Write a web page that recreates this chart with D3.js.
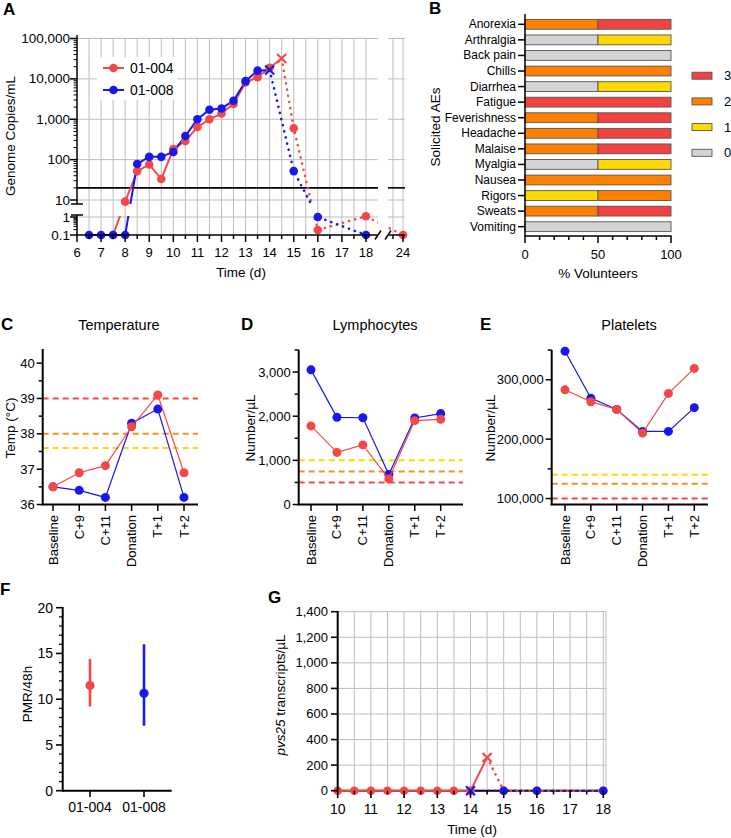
<!DOCTYPE html>
<html><head><meta charset="utf-8">
<script src="https://cdn.jsdelivr.net/npm/d3@7"></script>
<style>
body{margin:0;background:#fff}
svg{display:block}
text{font-family:"Liberation Sans",Arial,Helvetica,sans-serif;fill:#000}
</style>
</head><body>
<svg id="c" width="731" height="838"></svg>
<script>
// ---------------- DATA ----------------
// Panel A: genome copies/mL over time (days)
const daysRedA  = [7.5, 8, 8.5, 9, 9.5, 10, 10.5, 11, 11.5, 12, 12.5, 13, 13.5, 14, 14.5, 15, 16, 18, 24];
const copiesRedA = [0.1, 8, 52, 76, 33, 183, 288, 640, 1000, 1390, 2400, 8150, 11000, 18800, 32000, 600, 0.19, 1.1, 0.1];
const daysBlueA = [6.5, 7, 7.5, 8, 8.5, 9, 9.5, 10, 10.5, 11, 11.5, 12, 12.5, 13, 13.5, 14, 15, 16, 18];
const copiesBlueA = [0.1, 0.1, 0.1, 0.1, 78, 117, 117, 155, 383, 1000, 1720, 1850, 2880, 8800, 16000, 16600, 52, 1.0, 0.1];
const treatRed = 14.5, treatBlue = 14;
const lodA = 20;
const xTicksA = [6, 7, 8, 9, 10, 11, 12, 13, 14, 15, 16, 17, 18, 24];
const yTicksA = [0.1, 1, 10, 100, 1000, 10000, 100000];
const volunteers = ["01-004", "01-008"];

// Panel B: solicited AEs, % volunteers per max grade
const aeCats = ["Anorexia","Arthralgia","Back pain","Chills","Diarrhea","Fatigue","Feverishness","Headache","Malaise","Myalgia","Nausea","Rigors","Sweats","Vomiting"];
const grade0 = [0, 50, 100, 0, 50, 0, 0, 0, 0, 50, 0, 0, 0, 100];
const grade1 = [0, 50, 0, 0, 50, 0, 0, 0, 0, 50, 0, 50, 0, 0];
const grade2 = [50, 0, 0, 100, 0, 0, 50, 50, 50, 0, 100, 50, 50, 0];
const grade3 = [50, 0, 0, 0, 0, 100, 50, 50, 50, 0, 0, 0, 50, 0];
const gradeKeys = ["0","1","2","3"];

// Panels C-E
const timepoints = ["Baseline","C+9","C+11","Donation","T+1","T+2"];
const tempRed  = [36.5, 36.9, 37.1, 38.2, 39.1, 36.9];
const tempBlue = [36.5, 36.4, 36.2, 38.3, 38.7, 36.2];
const tempThr  = [37.6, 38, 39];          // grade 1, 2, 3
const lymRed   = [1780, 1180, 1350, 580, 1900, 1930];
const lymBlue  = [3050, 1975, 1965, 680, 1960, 2060];
const lymThr   = [1000, 750, 500];
const pltRed   = [283000, 263000, 250000, 210000, 277000, 319000];
const pltBlue  = [348000, 269000, 250000, 213000, 213000, 253000];
const pltThr   = [140000, 125000, 100000];

// Panel F: PMR/48h
const pmrMid = [11.5, 10.65];
const pmrLo  = [9.2, 7.1];
const pmrHi  = [14.4, 16.0];

// Panel G: pvs25 transcripts/uL
const daysRedG = [10, 10.5, 11, 11.5, 12, 12.5, 13, 13.5, 14, 14.5, 15, 16, 18];
const pvsRedG  = [0, 0, 0, 0, 0, 0, 0, 0, 0, 260, 0, 0, 0];
const daysBlueG = [14, 15, 16, 18];
const pvsBlueG  = [0, 0, 0, 0];

// ---------------- STYLE ----------------
const RED = "#F44848", BLUE = "#1818EE";
const GRADE_COL = {"0":"#D4D4D4","1":"#FFD800","2":"#FF8000","3":"#F44242"};
const THR_COL = ["#FFD800", "#FF8C1A", "#F44848"];
const GRID = "#BDBDBD";
const F_TICK = 13, F_TITLE = 13.5;

const svg = d3.select("#c");

function T(g, x, y, s, o = {}) {
  const t = g.append("text").attr("x", x).attr("y", y).text(s)
    .attr("font-size", o.size || F_TICK)
    .attr("text-anchor", o.anchor || "middle")
    .attr("dominant-baseline", o.base || "central");
  if (o.weight) t.attr("font-weight", o.weight);
  if (o.rot) t.attr("transform", `rotate(${o.rot},${x},${y})`);
  return t;
}
function L(g, x1, y1, x2, y2, col = "#000", w = 1.5) {
  return g.append("line").attr("x1", x1).attr("y1", y1).attr("x2", x2).attr("y2", y2)
    .attr("stroke", col).attr("stroke-width", w);
}
function xMark(g, x, y, col, s = 4.5) {
  L(g, x - s, y - s, x + s, y + s, col, 2.2);
  L(g, x - s, y + s, x + s, y - s, col, 2.2);
}
function letter(s, x, y) { T(svg, x, y, s, {size: 17, weight: "bold", anchor: "start", base: "alphabetic"}); }

// ================= PANEL A =================
(function () {
  const g = svg.append("g");
  const xA1 = d3.scaleLinear().domain([6, 18.5]).range([77, 378]);
  const xA2 = d3.scaleLinear().domain([23.5, 24]).range([393, 403]);
  const xA = t => t <= 18.5 ? xA1(t) : (t >= 23.25 ? xA2(t) : 378 + (t - 18.5) / (23.25 - 18.5) * 10);
  const yUp = d3.scaleLog().domain([10, 1e5]).range([200, 38.5]);
  const yLow = d3.scaleLog().domain([0.1, 1]).range([235, 217]);
  const yA = v => v >= 10 ? yUp(v) : (v <= 1 ? yLow(v) : 217 + (200 - 217) * Math.log10(v));
  const segs = [[77, 378], [388, 405]];

  // grid
  const vg = d3.range(6.5, 18.01, 0.5).concat([23.5, 24]);
  vg.forEach(t => L(g, xA(t), yUp(1e5), xA(t), 235, GRID, 1));
  [1e5, 1e4, 1e3, 100, 10, 1].forEach(v => segs.forEach(s => L(g, s[0], yA(v), s[1], yA(v), GRID, 1)));
  // LOD
  segs.forEach(s => L(g, s[0], yA(lodA), s[1], yA(lodA), "#000", 1.6));

  // clip
  const cp = g.append("clipPath").attr("id", "clipA");
  [[70, 0, 308, 204], [70, 216, 308, 40], [388, 0, 40, 204], [388, 216, 40, 40]]
    .forEach(r => cp.append("rect").attr("x", r[0]).attr("y", r[1]).attr("width", r[2]).attr("height", r[3]));

  const line = d3.line().x(d => xA(d.t)).y(d => yA(d.v));
  const series = [
    {days: daysRedA, vals: copiesRedA, col: RED, cut: treatRed},
    {days: daysBlueA, vals: copiesBlueA, col: BLUE, cut: treatBlue}
  ];
  const lg = g.append("g").attr("clip-path", "url(#clipA)");
  series.forEach(s => {
    const pts = s.days.map((t, i) => ({t, v: s.vals[i]}));
    const solid = pts.filter(p => p.t <= s.cut), dot = pts.filter(p => p.t >= s.cut);
    lg.append("path").attr("d", line(solid)).attr("fill", "none").attr("stroke", s.col).attr("stroke-width", 2);
    lg.append("path").attr("d", line(dot)).attr("fill", "none").attr("stroke", s.col).attr("stroke-width", 2.6)
      .attr("stroke-dasharray", "0.1,6.2").attr("stroke-linecap", "round");
  });
  series.forEach(s => {
    s.days.forEach((t, i) => {
      if (t === s.cut) xMark(g, xA(t), yA(s.vals[i]), s.col);
      else g.append("circle").attr("cx", xA(t)).attr("cy", yA(s.vals[i])).attr("r", 4.3).attr("fill", s.col);
    });
  });

  // axes
  L(g, 77, 35, 77, 204); L(g, 77, 215, 77, 235.5);
  L(g, 71, 204, 83, 204); L(g, 71, 215, 83, 215);
  yTicksA.forEach(v => {
    L(g, 70, yA(v), 77, yA(v));
    T(g, 70, yA(v), v >= 1 ? d3.format(",")(v) : "0.1", {anchor: "end", size: 13.5});
  });
  [10, 100, 1000, 10000].forEach(b => d3.range(2, 10).forEach(k => L(g, 73.5, yUp(b * k), 77, yUp(b * k), "#000", 1)));
  d3.range(2, 10).forEach(k => L(g, 73.5, yLow(0.1 * k), 77, yLow(0.1 * k), "#000", 1));
  segs.forEach(s => L(g, s[0], 235, s[1], 235));
  [378, 388].forEach(x => L(g, x - 3, 239.5, x + 3, 230.5, "#000", 1.5));
  d3.range(6, 18.01, 0.5).forEach(t => L(g, xA(t), 235, xA(t), Number.isInteger(t) ? 242 : 239));
  L(g, xA(24), 235, xA(24), 242); L(g, xA(23.5), 235, xA(23.5), 239);
  xTicksA.forEach(t => T(g, xA(t), 252, t));
  T(g, 241, 272, "Time (d)", {size: F_TITLE});
  T(g, 10, 136, "Genome Copies/mL", {size: F_TITLE, rot: -90});

  // legend
  g.append("rect").attr("x", 97).attr("y", 57).attr("width", 80).attr("height", 43).attr("fill", "#fff");
  [RED, BLUE].forEach((c, i) => {
    const y = 68 + i * 22;
    L(g, 103, y, 124, y, c, 2);
    g.append("circle").attr("cx", 113.5).attr("cy", y).attr("r", 4.3).attr("fill", c);
    T(g, 130, y, volunteers[i], {size: 14, anchor: "start"});
  });
  letter("A", 3, 15);
})();

// ================= PANEL B =================
(function () {
  const g = svg.append("g");
  const x = d3.scaleLinear().domain([0, 100]).range([525, 671]);
  const y = d3.scalePoint().domain(aeCats).range([24.3, 226.7]);
  const rows = aeCats.map((c, i) => ({cat: c, "0": grade0[i], "1": grade1[i], "2": grade2[i], "3": grade3[i]}));
  const stack = d3.stack().keys(gradeKeys)(rows);
  const bh = 9.8;
  stack.forEach(layer => {
    layer.forEach(d => {
      if (d[1] - d[0] <= 0) return;
      g.append("rect").attr("x", x(d[0])).attr("y", y(d.data.cat) - bh / 2)
        .attr("width", x(d[1]) - x(d[0])).attr("height", bh)
        .attr("fill", GRADE_COL[layer.key]).attr("stroke", "#555").attr("stroke-width", 0.9);
    });
  });
  L(g, 525, 14, 525, 236.5);
  aeCats.forEach(c => { L(g, 518, y(c), 525, y(c)); T(g, 516, y(c), c, {anchor: "end", size: 12}); });
  L(g, 524.5, 236, 671.5, 236);
  d3.range(0, 101, 10).forEach(v => L(g, x(v), 236, x(v), v % 50 === 0 ? 243 : 240));
  [0, 50, 100].forEach(v => T(g, x(v), 254, v));
  T(g, 598, 273, "% Volunteers", {size: F_TITLE});
  T(g, 435, 127, "Solicited AEs", {size: F_TITLE, rot: -90});
  gradeKeys.slice().reverse().forEach((k, i) => {
    const yy = 75.7 + i * 25.7;
    g.append("rect").attr("x", 692).attr("y", yy - 3.5).attr("width", 20).attr("height", 7)
      .attr("fill", GRADE_COL[k]).attr("stroke", "#555").attr("stroke-width", 0.9);
    T(g, 724, yy, k, {anchor: "start", size: 13});
  });
  letter("B", 429, 14);
})();

// ================= PANELS C, D, E =================
function catPanel(o) {
  const g = svg.append("g");
  const x = d3.scalePoint().domain(timepoints).range([o.x0, o.x1]);
  const y = d3.scaleLinear().domain(o.dom).range([504.5, o.top]);
  o.thr.forEach((v, i) => L(g, o.ax, y(v), o.xend, y(v), THR_COL[i], 2).attr("stroke-dasharray", "6,4"));
  const line = d3.line().x((d, i) => x(timepoints[i])).y(d => y(d));
  [[o.blue, BLUE], [o.red, RED]].forEach(([vals, c]) => {
    g.append("path").attr("d", line(vals)).attr("fill", "none").attr("stroke", c).attr("stroke-width", 1.2);
    vals.forEach((v, i) => g.append("circle").attr("cx", x(timepoints[i])).attr("cy", y(v)).attr("r", 4.5).attr("fill", c));
  });
  L(g, o.ax, o.top, o.ax, 505.2, "#000", 2);
  L(g, o.ax - 1, 504.5, o.xend, 504.5, "#000", 2);
  o.major.forEach(v => { L(g, o.ax - 6, y(v), o.ax, y(v), "#000", 1.5); T(g, o.ax - 8, y(v), d3.format(",")(v), {anchor: "end"}); });
  o.minor.forEach(v => L(g, o.ax - 4, y(v), o.ax, y(v), "#000", 1.5));
  timepoints.forEach(t => {
    L(g, x(t), 504.5, x(t), 511, "#000", 1.5);
    T(g, x(t), 515, t, {anchor: "end", rot: -90});
  });
  T(g, (o.ax + o.xend) / 2 + o.toff, 325, o.title, {size: 14.5});
  T(g, o.ytx, 428, o.ytitle, {size: F_TITLE, rot: -90});
  letter(o.letter, o.lx, 330);
}
catPanel({x0: 53, x1: 184, ax: 42.7, xend: 198, top: 349, dom: [36, 40.4], thr: tempThr,
  red: tempRed, blue: tempBlue, major: [36, 37, 38, 39, 40], minor: [36.5, 37.5, 38.5, 39.5],
  title: "Temperature", toff: -1.5, ytitle: "Temp (°C)", ytx: 10, letter: "C", lx: 1});
catPanel({x0: 311, x1: 440.7, ax: 298.7, xend: 463, top: 350, dom: [0, 3500], thr: lymThr,
  red: lymRed, blue: lymBlue, major: [0, 1000, 2000, 3000], minor: [500, 1500, 2500, 3500],
  title: "Lymphocytes", toff: -5.8, ytitle: "Number/µL", ytx: 250, letter: "D", lx: 241});
catPanel({x0: 565, x1: 694.3, ax: 551.7, xend: 708, top: 350, dom: [90000, 350000], thr: pltThr,
  red: pltRed, blue: pltBlue, major: [100000, 200000, 300000], minor: [150000, 250000, 350000],
  title: "Platelets", toff: -0.8, ytitle: "Number/µL", ytx: 490, letter: "E", lx: 480});

// ================= PANEL F =================
(function () {
  const g = svg.append("g");
  const x = d3.scalePoint().domain(volunteers).range([90, 144]);
  const y = d3.scaleLinear().domain([0, 20]).range([790.7, 607.7]);
  volunteers.forEach((v, i) => {
    const c = i === 0 ? RED : BLUE;
    L(g, x(v), y(pmrLo[i]), x(v), y(pmrHi[i]), c, 2.6);
    g.append("circle").attr("cx", x(v)).attr("cy", y(pmrMid[i])).attr("r", 4.6).attr("fill", c);
  });
  L(g, 62.7, 607, 62.7, 791.5, "#000", 2);
  L(g, 62, 790.7, 171.7, 790.7, "#000", 2);
  d3.range(0, 21, 1).forEach(v => {
    const maj = v % 5 === 0;
    L(g, maj ? 56 : 59, y(v), 62.7, y(v), "#000", maj ? 1.6 : 1.2);
    if (maj) T(g, 53, y(v), v, {anchor: "end", size: 14});
  });
  volunteers.forEach(v => { L(g, x(v), 790.7, x(v), 797, "#000", 1.6); T(g, x(v), 807, v, {size: 14}); });
  T(g, 27, 694, "PMR/48h", {size: F_TITLE, rot: -90});
  letter("F", 0, 595);
})();

// ================= PANEL G =================
(function () {
  const g = svg.append("g");
  const x = d3.scaleLinear().domain([10, 18]).range([337.7, 603.3]);
  const y = d3.scaleLinear().domain([0, 1400]).range([790.7, 611.7]);
  d3.range(200, 1401, 200).forEach(v => L(g, 337.7, y(v), 606, y(v), GRID, 1));
  d3.range(10.5, 18.01, 0.5).forEach(t => L(g, x(t), 611.7, x(t), 790.7, GRID, 1));
  L(g, 606, 611.7, 606, 790.7, GRID, 1);
  const line = d3.line().x(d => x(d.t)).y(d => y(d.v));
  const series = [
    {days: daysRedG, vals: pvsRedG, col: RED, cut: treatRed},
    {days: daysBlueG, vals: pvsBlueG, col: BLUE, cut: treatBlue}
  ];
  L(g, 337.7, 790.7, 606, 790.7, "#000", 2);
  series.forEach(s => {
    const pts = s.days.map((t, i) => ({t, v: s.vals[i]}));
    const solid = pts.filter(p => p.t <= s.cut), dot = pts.filter(p => p.t >= s.cut);
    if (solid.length > 1) g.append("path").attr("d", line(solid)).attr("fill", "none").attr("stroke", s.col).attr("stroke-width", 2);
    g.append("path").attr("d", line(dot)).attr("fill", "none").attr("stroke", s.col).attr("stroke-width", 2.6)
      .attr("stroke-dasharray", "0.1,6.2").attr("stroke-linecap", "round");
    s.days.forEach((t, i) => {
      if (t === s.cut) xMark(g, x(t), y(s.vals[i]), s.col);
      else g.append("circle").attr("cx", x(t)).attr("cy", y(s.vals[i])).attr("r", 4.3).attr("fill", s.col);
    });
  });
  L(g, 337.7, 611, 337.7, 791.5, "#000", 2);
  d3.range(0, 1401, 200).forEach(v => { L(g, 331, y(v), 337.7, y(v), "#000", 1.6); T(g, 328, y(v), d3.format(",")(v), {anchor: "end"}); });
  d3.range(10, 18.01, 0.5).forEach(t => L(g, x(t), 790.7, x(t), Number.isInteger(t) ? 798 : 794.5, "#000", 1.6));
  d3.range(10, 19).forEach(t => T(g, x(t), 808.5, t, {size: 14}));
  T(g, 472, 829, "Time (d)", {size: F_TITLE});
  const yt = T(g, 280, 695, "", {size: F_TITLE, rot: -90});
  yt.append("tspan").attr("font-style", "italic").text("pvs25");
  yt.append("tspan").text(" transcripts/µL");
  letter("G", 268, 603);
})();
</script>
</body></html>
